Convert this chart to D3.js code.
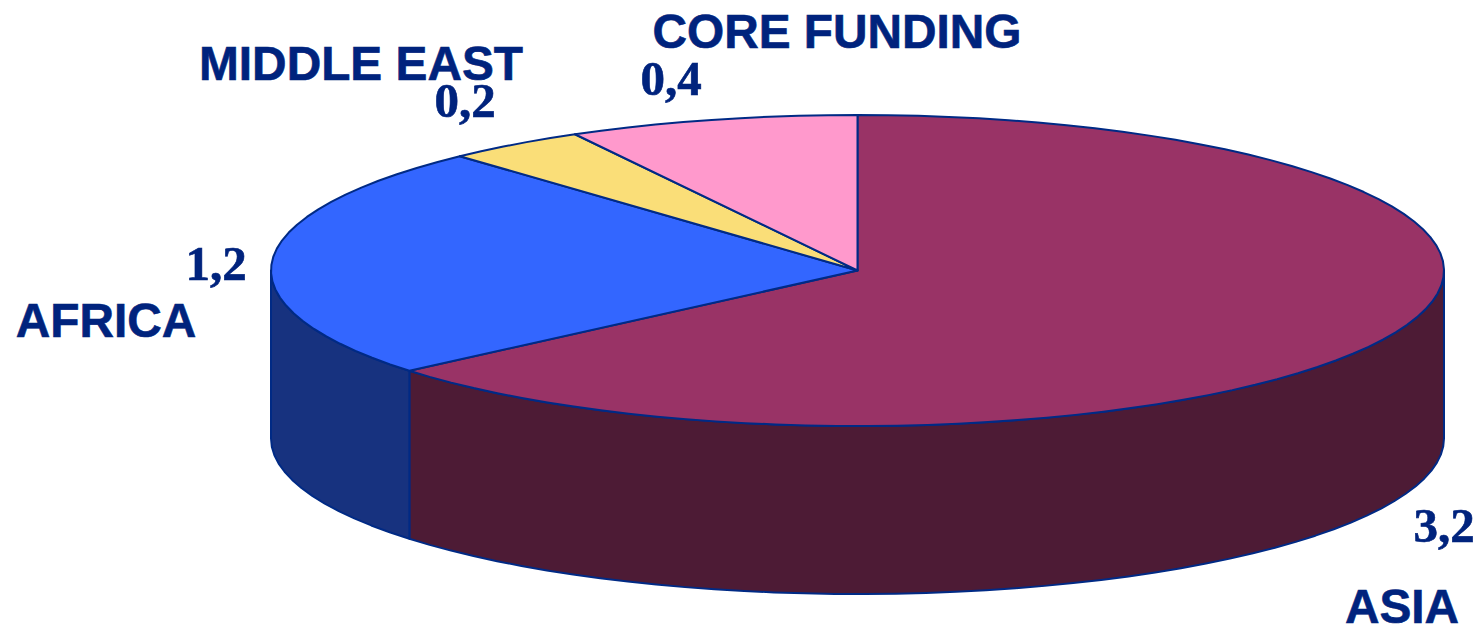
<!DOCTYPE html>
<html>
<head>
<meta charset="utf-8">
<script src="https://cdn.jsdelivr.net/npm/d3@7"></script>
<style>
html, body { margin: 0; padding: 0; background: #fff; overflow: hidden; }
</style>
</head>
<body>
<script>
var regions = ["ASIA", "AFRICA", "MIDDLE EAST", "CORE FUNDING"];
// slice sizes, the printed labels are rounded
var funding = [3.192, 1.215, 0.193, 0.4];
var valueLabels = ["3,2", "1,2", "0,2", "0,4"];
var topColors = ["#993366", "#3366ff", "#fade78", "#ff99cc"];
var sideColors = ["#4d1b35", "#17327f", "#7d703c", "#804d66"];

var width = 1479, height = 632;
var cx = 857.5, cy = 270.5, rx = 586.5, ry = 155.5, depth = 168;
var lineColor = "#002a85", textColor = "#00237d";

var svg = d3.select("body").append("svg")
    .attr("width", width)
    .attr("height", height)
    .attr("viewBox", "0 0 " + width + " " + height);

var arcs = d3.pie().sort(null)(funding);

// ellipse point for a pie angle (0 = 12 o'clock, clockwise)
var px = function(a) { return cx + rx * Math.sin(a); };
var py = function(a) { return cy - ry * Math.cos(a); };

var rimLine = d3.line().x(function(d) { return d[0]; }).y(function(d) { return d[1]; });

// the rim in the original is faceted, so keep the steps coarse
var rimPoints = function(a0, a1, dy) {
    var n = Math.max(2, Math.round(Math.abs(a1 - a0) / (Math.PI / 60)));
    return d3.range(0, n + 1).map(function(i) {
        var a = a0 + (a1 - a0) * i / n;
        return [px(a), py(a) + dy];
    });
};

// side walls, only the front half of the disc shows
var front0 = Math.PI / 2, front1 = Math.PI * 3 / 2;
arcs.forEach(function(d) {
    var a0 = Math.max(d.startAngle, front0), a1 = Math.min(d.endAngle, front1);
    if (a1 <= a0) return;
    var pts = rimPoints(a0, a1, 0).concat(rimPoints(a1, a0, depth));
    svg.append("path")
        .attr("d", rimLine(pts) + "Z")
        .attr("fill", sideColors[d.index])
        .attr("stroke", lineColor)
        .attr("stroke-width", 2)
        .attr("stroke-linejoin", "round");
});

// top slices
svg.append("g").selectAll("path")
    .data(arcs)
    .enter().append("path")
    .attr("d", function(d) {
        return rimLine([[cx, cy]].concat(rimPoints(d.startAngle, d.endAngle, 0))) + "Z";
    })
    .attr("fill", function(d) { return topColors[d.index]; })
    .attr("stroke", lineColor)
    .attr("stroke-width", 2)
    .attr("stroke-linejoin", "round");

var namePos = [[1402, 623], [106, 337], [361, 80], [837, 48]];
var valuePos = [[1444, 542], [216, 280], [465, 117], [671, 95]];

svg.append("g").selectAll("text")
    .data(regions)
    .enter().append("text")
    .attr("x", function(d, i) { return namePos[i][0]; })
    .attr("y", function(d, i) { return namePos[i][1]; })
    .attr("text-anchor", "middle")
    .attr("font-family", "Liberation Sans")
    .attr("font-weight", "bold")
    .attr("font-size", 47.8)
    .attr("fill", textColor)
    .attr("stroke", textColor)
    .attr("stroke-width", 0.6)
    .text(function(d) { return d; });

svg.append("g").selectAll("text")
    .data(valueLabels)
    .enter().append("text")
    .attr("x", function(d, i) { return valuePos[i][0]; })
    .attr("y", function(d, i) { return valuePos[i][1]; })
    .attr("text-anchor", "middle")
    .attr("font-family", "Liberation Serif")
    .attr("font-weight", "bold")
    .attr("font-size", 49)
    .attr("fill", textColor)
    .attr("stroke", textColor)
    .attr("stroke-width", 0.6)
    .text(function(d) { return d; });
</script>
</body>
</html>
